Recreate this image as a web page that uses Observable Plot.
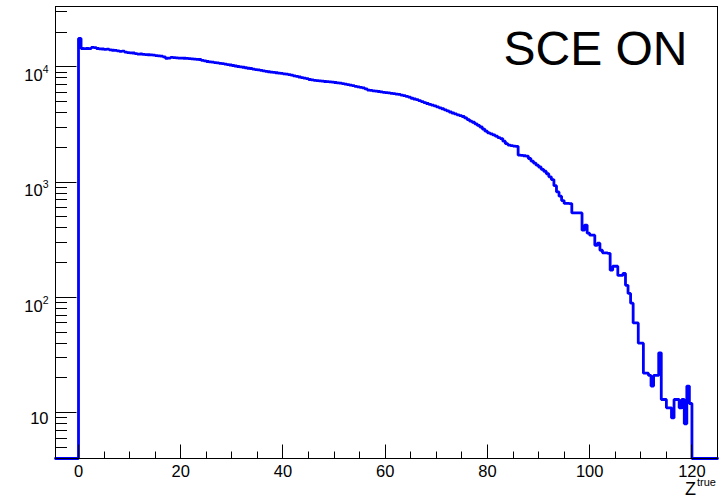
<!DOCTYPE html>
<html><head><meta charset="utf-8">
<script src="https://cdn.jsdelivr.net/npm/d3@7"></script>
<script src="https://cdn.jsdelivr.net/npm/@observablehq/plot@0.6"></script>
<style>body{margin:0;background:#fff;} svg{display:block;}</style>
</head><body>
<script>
// histogram binning
const binLow = 0, binWidth = 0.5;
// bin contents (bins of 0.5 from 0 to 120)
const counts = [
  17580, 14400, 14350, 14400, 14380, 14700, 14650, 14400, 14300, 14250,
  14150, 14200, 14000, 13900, 13850, 13750, 13600, 13650, 13400, 13250,
  13200, 13150, 13000, 12850, 12900, 12800, 12750, 12700, 12650, 12600,
  12500, 12400, 12350, 12200, 11850, 11900, 12050, 12000, 11950, 11900,
  11900, 11850, 11800, 11750, 11700, 11650, 11600, 11550, 11350, 11250,
  11100, 11000, 10950, 10850, 10800, 10700, 10650, 10550, 10450, 10350,
  10250, 10150, 10050, 9980, 9900, 9800, 9700, 9650, 9520, 9450,
  9380, 9300, 9200, 9120, 9050, 8980, 8920, 8870, 8800, 8750,
  8680, 8620, 8530, 8450, 8330, 8250, 8150, 8050, 7950, 7880,
  7750, 7680, 7620, 7580, 7530, 7490, 7450, 7420, 7390, 7350,
  7300, 7250, 7200, 7150, 7080, 7000, 6920, 6850, 6760, 6700,
  6620, 6550, 6420, 6280, 6230, 6180, 6140, 6100, 6050, 6000,
  5970, 5930, 5880, 5840, 5790, 5750, 5680, 5610, 5530, 5450,
  5330, 5250, 5180, 5080, 4990, 4890, 4800, 4720, 4640, 4570,
  4480, 4400, 4320, 4230, 4140, 4050, 3970, 3900, 3830, 3760,
  3700, 3600, 3480, 3370, 3300, 3200, 3100, 3000, 2880, 2760,
  2670, 2620, 2560, 2500, 2430, 2380, 2260, 2150, 2090, 2070,
  2050, 2040, 1710, 1700, 1690, 1680, 1600, 1520, 1460, 1400,
  1350, 1290, 1240, 1180, 1110, 1050, 930, 820, 754, 690,
  652, 652, 650, 540, 540, 540, 540, 382, 423, 360,
  346, 346, 283, 295, 256, 243, 243, 241, 172, 186,
  186, 155, 155, 161, 127, 108, 89, 60, 60, 40,
  40, 22, 22, 21, 17, 21, 21, 33, 13, 13,
  11, 11, 9, 13, 13, 11, 13, 8, 17, 12
];
const xDomain = [-4.5, 125];
const yDomain = [4, 33300];
const xMajorTicks = [0, 20, 40, 60, 80, 100, 120];
const xMinorTicks = [5, 10, 15, 25, 30, 35, 45, 50, 55, 65, 70, 75, 85, 90, 95, 105, 110, 115];
const yMajorTicks = [10, 100, 1000, 10000];
const yTickLabels = ["10", "10^2", "10^3", "10^4"];
const yMinorTicks = [5, 6, 7, 8, 9, 20, 30, 40, 50, 60, 70, 80, 90,
  200, 300, 400, 500, 600, 700, 800, 900,
  2000, 3000, 4000, 5000, 6000, 7000, 8000, 9000, 20000, 30000];
const annotation = "SCE ON";
const xTitle = "Z^true";

// step outline points
const pts = [{x: xDomain[0], y: yDomain[0]}];
counts.forEach((c, i) => pts.push({x: binLow + i * binWidth, y: c > 0 ? c : yDomain[0]}));
pts.push({x: binLow + counts.length * binWidth, y: yDomain[0]});
pts.push({x: xDomain[1], y: yDomain[0]});

function ticksMark(index, scales, values, dims) {
  const g = d3.create("svg:g").attr("stroke", "black").attr("stroke-width", 1).attr("fill", "none");
  const yb = dims.height - dims.marginBottom + 0.5;
  const xl = dims.marginLeft + 0.5;
  const add = (x1, y1, x2, y2) => g.append("line").attr("x1", x1).attr("y1", y1).attr("x2", x2).attr("y2", y2);
  xMajorTicks.forEach(t => { const x = Math.round(scales.x(t)) + 0.5; add(x, yb, x, yb - 14); });
  xMinorTicks.forEach(t => { const x = Math.round(scales.x(t)) + 0.5; add(x, yb, x, yb - 7); });
  yMajorTicks.forEach(t => { const y = Math.round(scales.y(t)) + 0.5; add(xl, y, xl + 21, y); });
  yMinorTicks.forEach(t => { const y = Math.round(scales.y(t)) + 0.5; add(xl, y, xl + 11.5, y); });
  return g.node();
}

const svg = Plot.plot({
  width: 720,
  height: 499,
  marginLeft: 55,
  marginRight: 3,
  marginTop: 6,
  marginBottom: 41,
  style: {fontFamily: "'Liberation Sans', Arial, Helvetica, sans-serif", background: "#fff", color: "black"},
  x: {domain: xDomain, label: null},
  y: {type: "log", domain: yDomain, label: null},
  marks: [
    Plot.line(pts, {x: "x", y: "y", curve: "step-after", stroke: "#0000ff", strokeWidth: 2.8, strokeLinejoin: "miter"}),
    Plot.frame({stroke: "black", strokeWidth: 1}),
    ticksMark,
    Plot.axisX({ticks: xMajorTicks, tickSize: 0, tickPadding: 7, fontSize: 16.5, tickFormat: d => String(d), label: null}),
    Plot.axisY({ticks: yMajorTicks, tickSize: 0, tickPadding: 7, fontSize: 16.5,
      tickFormat: d => yTickLabels[yMajorTicks.indexOf(d)], label: null}),
    Plot.text([annotation], {frameAnchor: "top-right", text: d => d, fontSize: 48, textAnchor: "end", lineAnchor: "top", dx: -30, dy: 24, fill: "black"}),
    Plot.text([xTitle], {frameAnchor: "bottom-right", text: d => d, fontSize: 18, textAnchor: "end", lineAnchor: "middle", dx: -1.5, dy: 31.2, fill: "black"})
  ]
});

// superscripts
d3.select(svg).selectAll('g[aria-label="y-axis tick label"] text').each(function() {
  const t = d3.select(this);
  const parts = this.textContent.split("^");
  if (parts.length === 2) {
    t.text(parts[0]);
    t.attr("dy", "0.55em");
    t.append("tspan").attr("font-size", 10.5).attr("dy", -8).text(parts[1]);
  } else {
    t.attr("dy", "0.38em");
  }
});
d3.select(svg).selectAll("text").filter(function() { return this.textContent === xTitle; }).each(function() {
  const t = d3.select(this);
  const parts = this.textContent.split("^");
  t.text(parts[0]);
  t.append("tspan").attr("font-size", 11).attr("dy", -9).attr("dx", 1).text(parts[1]);
});

document.body.appendChild(svg);
</script>
</body></html>
